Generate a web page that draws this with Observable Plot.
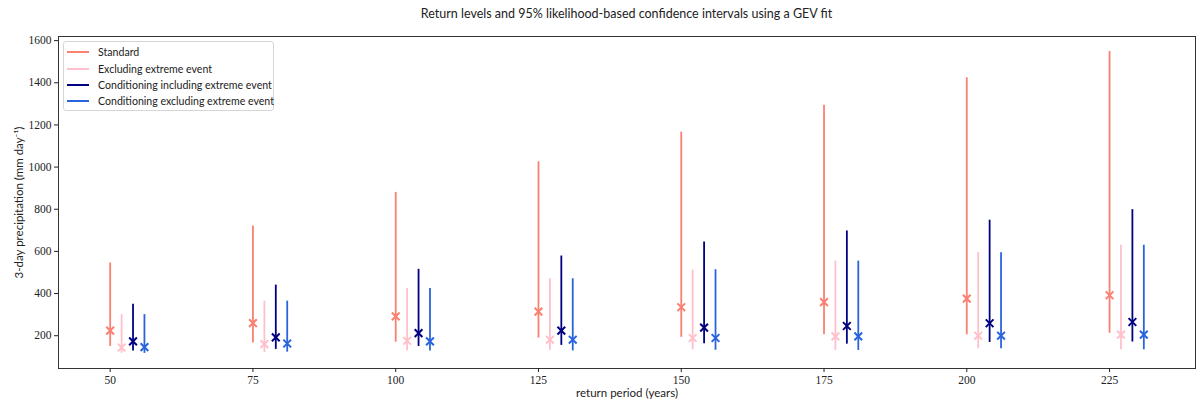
<!DOCTYPE html>
<html>
<head>
<meta charset="utf-8">
<script src="https://cdn.jsdelivr.net/npm/d3@7"></script>
<script src="https://cdn.jsdelivr.net/npm/@observablehq/plot@0.6"></script>
<style>
  html, body { margin: 0; padding: 0; background: #fff; }
  #wrap { position: relative; width: 1200px; height: 403px; }
  #title { box-sizing: border-box; width: 1200px; height: 30px; padding: 6px 5px 0 58px; text-align: center;
           font-family: Lato, "Open Sans", sans-serif; font-size: 12.5px; color: #222; }
  #legend { position: absolute; left: 63px; top: 41px; width: 211px; height: 70px; box-sizing: border-box;
            border: 1px solid #d6d6d6; border-radius: 3px; background: rgba(255,255,255,0.85);
            font-family: Lato, "Open Sans", sans-serif; font-size: 10.6px; color: #222; padding: 2px 0 0 3px; white-space: nowrap; }
  .li { height: 16.4px; display: flex; align-items: center; }
  .sw { width: 22px; height: 0; border-top: 2px solid; margin-right: 9px; flex: none; }
</style>
</head>
<body>
<div id="wrap">
  <div id="title">Return levels and 95% likelihood-based confidence intervals using a GEV fit</div>
  <div id="chart"></div>
  <div id="legend"></div>
</div>
<script>
const periods = [50, 75, 100, 125, 150, 175, 200, 225];
const seriesNames = ["Standard", "Excluding extreme event", "Conditioning including extreme event", "Conditioning excluding extreme event"];
const seriesColors = ["#fa8072", "#ffc0cb", "#000080", "#2a64dc"];

const standardEst = [224, 260, 292, 314, 335, 359, 376, 392];
const standardLo  = [149, 165, 169, 189, 192, 205, 205, 212];
const standardHi  = [545, 721, 880, 1025, 1166, 1293, 1424, 1548];

const exclEst = [144, 160, 176, 181, 189, 197, 200, 205];
const exclLo  = [117, 120, 128, 131, 133, 130, 138, 133];
const exclHi  = [300, 364, 424, 470, 511, 554, 594, 629];

const condInclEst = [173, 192, 212, 224, 238, 246, 259, 265];
const condInclLo  = [128, 135, 149, 154, 162, 160, 168, 170];
const condInclHi  = [349, 440, 515, 578, 644, 697, 748, 798];

const condExclEst = [146, 163, 173, 181, 189, 197, 200, 205];
const condExclLo  = [116, 122, 128, 128, 131, 130, 138, 133];
const condExclHi  = [300, 364, 424, 470, 513, 554, 594, 629];

const yTicks = [200, 400, 600, 800, 1000, 1200, 1400, 1600];

// x offset (in years) between the series within a group
const seriesShift = [0, 2, 4, 6];

const est = [standardEst, exclEst, condInclEst, condExclEst];
const lo = [standardLo, exclLo, condInclLo, condExclLo];
const hi = [standardHi, exclHi, condInclHi, condExclHi];

const rows = [];
seriesNames.forEach((s, si) => {
  periods.forEach((p, i) => {
    rows.push({series: s, x: p + seriesShift[si], est: est[si][i], lo: lo[si][i], hi: hi[si][i]});
  });
});

// matplotlib-like 5% margins
const xmin = d3.min(rows, d => d.x), xmax = d3.max(rows, d => d.x);
const ymin = d3.min(rows, d => d.lo), ymax = d3.max(rows, d => d.hi);
const xr = xmax - xmin, yr = ymax - ymin;

const serif = '"Liberation Serif", "DejaVu Serif", serif';
const sans = 'Lato, "Open Sans", sans-serif';

const chart = Plot.plot({
  width: 1200,
  height: 373,
  marginTop: 6,
  marginBottom: 35,
  marginLeft: 58,
  marginRight: 5,
  style: {fontFamily: serif, fontSize: "11.5px", color: "#222", background: "#fff"},
  x: {domain: [xmin - 0.05 * xr, xmax + 0.05 * xr]},
  y: {domain: [ymin - 0.05 * yr, ymax + 0.05 * yr]},
  color: {domain: seriesNames, range: seriesColors},
  marks: [
    Plot.frame({stroke: "#333", strokeWidth: 1}),
    Plot.axisX({ticks: periods, tickSize: 4, tickPadding: 3, tickFormat: d => String(d), fontFamily: serif, label: null}),
    Plot.axisX({ticks: [], label: "return period (years)", labelAnchor: "center", labelArrow: "none", labelOffset: 28, fontFamily: sans, tickSize: 0}),
    Plot.axisY({ticks: yTicks, tickSize: 4, tickPadding: 3, tickFormat: d => String(d), fontFamily: serif, label: null}),
    Plot.axisY({ticks: [], label: "3-day precipitation (mm day⁻¹)", labelAnchor: "center", labelArrow: "none", labelOffset: 44, fontFamily: sans, tickSize: 0}),
    Plot.ruleX(rows, {x: "x", y1: "lo", y2: "hi", stroke: "series", strokeWidth: 1.8}),
    Plot.dot(rows, {x: "x", y: "est", stroke: "series", symbol: "times", r: 3.6, strokeWidth: 2})
  ]
});
document.getElementById("chart").appendChild(chart);

const legend = document.getElementById("legend");
seriesNames.forEach((s, i) => {
  const row = document.createElement("div");
  row.className = "li";
  const sw = document.createElement("span");
  sw.className = "sw";
  sw.style.borderTopColor = seriesColors[i];
  const tx = document.createElement("span");
  tx.textContent = s;
  row.appendChild(sw);
  row.appendChild(tx);
  legend.appendChild(row);
});
</script>
</body>
</html>
